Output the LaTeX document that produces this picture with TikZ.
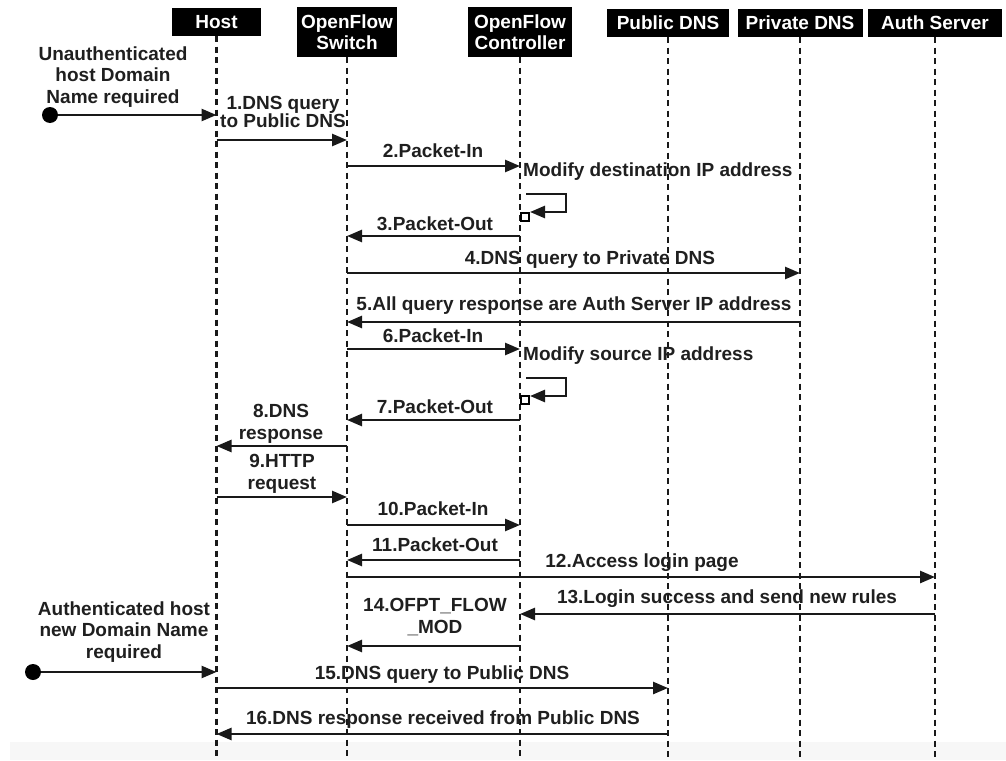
\documentclass[tikz,border=0pt]{standalone}
\usepackage{fontspec}
\setmainfont{Liberation Sans}
\usetikzlibrary{arrows.meta}

\begin{document}
\begin{tikzpicture}[x=1pt,y=-1pt,
  font=\fontsize{19}{21.5}\selectfont\bfseries,
  head/.style={fill=black,text=white,inner sep=0pt,align=center},
  life/.style={line width=2.5pt,dash pattern=on 6pt off 4.5pt,black!90},
  msg/.style={line width=2.6pt,black!90,-{Triangle[length=15pt,width=12pt]}},
  lbl/.style={inner sep=0pt,align=center,text=black!88},
  start/.style={circle,fill=black,inner sep=0pt,minimum size=16pt},
]
\useasboundingbox (0,0) rectangle (1006,760);
\fill[black!3] (10,742) rectangle (1006,760);

% participants
\node[head,minimum width=89pt,minimum height=28pt] (host)  at (216.5,22) {Host};
\node[head,minimum width=100pt,minimum height=50pt] (sw)   at (347,32) {OpenFlow\\Switch};
\node[head,minimum width=104pt,minimum height=50pt] (ctl)  at (520,32) {OpenFlow\\Controller};
\node[head,minimum width=122pt,minimum height=28pt] (pdns) at (668,23) {Public DNS};
\node[head,minimum width=125pt,minimum height=28pt] (prdns) at (800,23) {Private DNS};
\node[head,minimum width=134pt,minimum height=28pt] (auth) at (935,23) {Auth Server};

% lifelines
\foreach \p in {host,sw,ctl,pdns,prdns,auth}
  \draw[life] (\p.south) -- (\p.south |- 0,760);

% first request
\node[start] (s1) at (50,115) {};
\node[lbl] (e1) at (113,77) {Unauthenticated\\host Domain\\Name required};
\draw[msg] (s1) -- (host |- s1);

\node[lbl,font=\fontsize{19}{18}\selectfont\bfseries] (l1) at (283,112) {1.DNS query\\to Public DNS};
\draw[msg] (host |- 0,140) -- (sw |- 0,140);

\node[lbl] (l2) at (433,151) {2.Packet-In};
\draw[msg] (sw |- 0,166) -- (ctl |- 0,166);

\node[lbl,anchor=west] (m1) at (523,172) {Modify destination IP address};
\draw[msg] (ctl |- 0,194) ++(6,0) -- ++(40,0) -- ++(0,18) -- ++(-36,0);
\draw[fill=white,line width=1.4pt] (ctl |- 0,213) ++(1,0) rectangle ++(8,8);

\node[lbl] (l3) at (435,224) {3.Packet-Out};
\draw[msg] (ctl |- 0,236) -- (sw |- 0,236);

\node[lbl] (l4) at (590,260) {4.DNS query to Private DNS};
\draw[msg] (sw |- 0,273) -- (prdns |- 0,273);

\node[lbl] (l5) at (574,306) {5.All query response are Auth Server IP address};
\draw[msg] (prdns |- 0,322) -- (sw |- 0,322);

\node[lbl] (l6) at (433,336) {6.Packet-In};
\draw[msg] (sw |- 0,349) -- (ctl |- 0,349);

\node[lbl,anchor=west] (m2) at (523,356) {Modify source IP address};
\draw[msg] (ctl |- 0,378) ++(6,0) -- ++(40,0) -- ++(0,18) -- ++(-36,0);
\draw[fill=white,line width=1.4pt] (ctl |- 0,396) ++(1,0) rectangle ++(8,8);

\node[lbl] (l7) at (435,407) {7.Packet-Out};
\draw[msg] (ctl |- 0,420) -- (sw |- 0,420);

\node[lbl] (l8) at (281,424) {8.DNS\\response};
\draw[msg] (sw |- 0,446) -- (host |- 0,446);

\node[lbl] (l9) at (282,474) {9.HTTP\\request};
\draw[msg] (host |- 0,497) -- (sw |- 0,497);

\node[lbl] (l10) at (433,509) {10.Packet-In};
\draw[msg] (sw |- 0,525) -- (ctl |- 0,525);

\node[lbl] (l11) at (435,545) {11.Packet-Out};
\draw[msg] (ctl |- 0,560) -- (sw |- 0,560);

\node[lbl] (l12) at (642,563) {12.Access login page};
\draw[msg] (sw |- 0,577) -- (auth |- 0,577);

\node[lbl] (l13) at (727,599) {13.Login success and send new rules};
\draw[msg] (auth |- 0,614) -- (ctl |- 0,614);

\node[lbl] (l14) at (435,617) {14.OFPT\_FLOW\\\_MOD};
\draw[msg] (ctl |- 0,646) -- (sw |- 0,646);

% second request
\node[start] (s2) at (33,672) {};
\node[lbl] (e2) at (124,632) {Authenticated host\\new Domain Name\\required};
\draw[msg] (s2) -- (host |- s2);

\node[lbl] (l15) at (442,675) {15.DNS query to Public DNS};
\draw[msg] (host |- 0,688) -- (pdns |- 0,688);

\node[lbl] (l16) at (443,720) {16.DNS response received from Public DNS};
\draw[msg] (pdns |- 0,734) -- (host |- 0,734);
\end{tikzpicture}
\end{document}
